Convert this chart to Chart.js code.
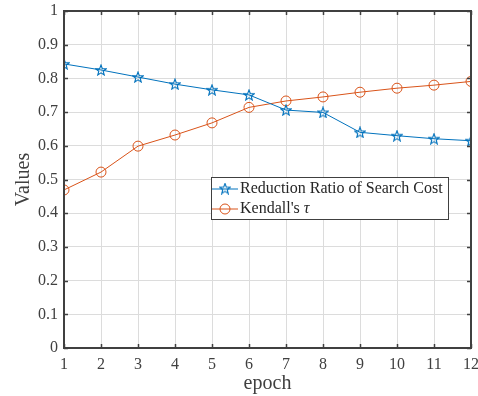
<!DOCTYPE html>
<html lang="en">
<head>
<meta charset="UTF-8">
<title>Chart</title>
<script src="https://cdn.jsdelivr.net/npm/chart.js"></script>
<style>
  html, body { margin: 0; padding: 0; background: #fff; }
  #wrap { width: 478px; height: 396px; }
</style>
</head>
<body>
<div id="wrap"><canvas id="myChart" width="478" height="396"></canvas></div>
<script>
// data
var epochs = [1, 2, 3, 4, 5, 6, 7, 8, 9, 10, 11, 12];
var reductionRatio = [0.843, 0.825, 0.804, 0.783, 0.766, 0.751, 0.706, 0.699, 0.640, 0.630, 0.621, 0.615];
var kendallTau = [0.469, 0.522, 0.599, 0.632, 0.668, 0.714, 0.733, 0.745, 0.759, 0.771, 0.780, 0.791];
var yTicks = [0, 0.1, 0.2, 0.3, 0.4, 0.5, 0.6, 0.7, 0.8, 0.9, 1];

var blue = '#0072BD';
var red = '#D95319';
var axisColor = '#404040';
var font = "'Liberation Serif', 'Times New Roman', serif";

// five pointed star marker
function makeStar(size, color) {
    var c = document.createElement('canvas');
    c.width = size; c.height = size;
    var g = c.getContext('2d');
    var cx = size / 2, cy = size / 2 + 0.5, R = size / 2 - 0.5, r = R * 0.42;
    g.beginPath();
    for (var i = 0; i < 10; i++) {
        var rad = i % 2 === 0 ? R : r;
        var a = -Math.PI / 2 + i * Math.PI / 5;
        var px = cx + rad * Math.cos(a), py = cy + rad * Math.sin(a);
        if (i === 0) g.moveTo(px, py); else g.lineTo(px, py);
    }
    g.closePath();
    g.strokeStyle = color;
    g.lineWidth = 1.1;
    g.stroke();
    return c;
}
var starImg = makeStar(12, blue);

function drawLegendMarker(ctx, type, x, y, color) {
    ctx.strokeStyle = color;
    ctx.lineWidth = 1;
    ctx.beginPath();
    ctx.moveTo(x - 13, y); ctx.lineTo(x + 13, y);
    ctx.stroke();
    if (type === 'star') {
        ctx.drawImage(starImg, x - 6, y - 6.5);
    } else {
        ctx.beginPath();
        ctx.arc(x, y, 5, 0, Math.PI * 2);
        ctx.stroke();
    }
}

var boxPlugin = {
    id: 'boxPlugin',
    afterDatasetsDraw: function (chart) {
        var ctx = chart.ctx;
        var a = chart.chartArea;
        var xs = chart.scales.x, ys = chart.scales.y;
        ctx.save();
        // box
        ctx.strokeStyle = axisColor;
        ctx.lineWidth = 2;
        ctx.strokeRect(a.left, a.top, a.right - a.left, a.bottom - a.top);
        // inner ticks
        ctx.lineWidth = 1.5;
        ctx.beginPath();
        yTicks.forEach(function (v) {
            var py = Math.round(ys.getPixelForValue(v)) + 0.5;
            ctx.moveTo(a.left, py); ctx.lineTo(a.left + 4, py);
            ctx.moveTo(a.right, py); ctx.lineTo(a.right - 4, py);
        });
        epochs.forEach(function (v) {
            var px = Math.round(xs.getPixelForValue(v)) + 0.5;
            ctx.moveTo(px, a.bottom); ctx.lineTo(px, a.bottom - 4);
            ctx.moveTo(px, a.top); ctx.lineTo(px, a.top + 4);
        });
        ctx.stroke();

        // legend
        var lx = 211, ly = 177, lw = 237, lh = 42;
        ctx.fillStyle = '#fff';
        ctx.fillRect(lx, ly, lw, lh);
        ctx.strokeStyle = axisColor;
        ctx.lineWidth = 1;
        ctx.strokeRect(lx + 0.5, ly + 0.5, lw, lh);
        drawLegendMarker(ctx, 'star', lx + 14, ly + 12, blue);
        drawLegendMarker(ctx, 'circle', lx + 14, ly + 32, red);
        ctx.fillStyle = '#262626';
        ctx.textBaseline = 'middle';
        ctx.textAlign = 'left';
        ctx.font = '16px ' + font;
        ctx.fillText('Reduction Ratio of Search Cost', lx + 29, ly + 12);
        var t = "Kendall's ";
        ctx.fillText(t, lx + 29, ly + 32);
        var w = ctx.measureText(t).width;
        ctx.font = 'italic 16px ' + font;
        ctx.fillText('\u03C4', lx + 29 + w, ly + 32);
        ctx.restore();
    }
};

new Chart(document.getElementById('myChart'), {
    type: 'line',
    data: {
        datasets: [{
            label: 'Reduction Ratio of Search Cost',
            data: epochs.map(function (e, i) { return { x: e, y: reductionRatio[i] }; }),
            borderColor: blue,
            borderWidth: 1,
            pointStyle: starImg,
            pointRadius: 6,
            pointBorderColor: blue,
            tension: 0
        }, {
            label: "Kendall's \u03C4",
            data: epochs.map(function (e, i) { return { x: e, y: kendallTau[i] }; }),
            borderColor: red,
            borderWidth: 1,
            pointStyle: 'circle',
            pointRadius: 5,
            pointBorderWidth: 1,
            pointBorderColor: red,
            pointBackgroundColor: 'rgba(0,0,0,0)',
            tension: 0
        }]
    },
    options: {
        responsive: false,
        animation: false,
        events: [],
        layout: { padding: { left: 0, right: 5, top: 11, bottom: 0 } },
        plugins: {
            legend: { display: false },
            tooltip: { enabled: false }
        },
        scales: {
            x: {
                type: 'linear',
                min: 1, max: 12,
                afterBuildTicks: function (s) { s.ticks = epochs.map(function (v) { return { value: v }; }); },
                afterFit: function (s) { s.height = 48; s.paddingLeft = 0; s.paddingRight = 0; },
                grid: { color: '#dcdcdc', lineWidth: 1, drawTicks: false },
                border: { display: false },
                ticks: { color: '#404040', font: { family: font, size: 16 }, padding: 7, maxRotation: 0, autoSkip: false },
                title: { display: true, text: 'epoch', color: '#404040', font: { family: font, size: 20 }, padding: { top: 3, bottom: 0 } }
            },
            y: {
                min: 0, max: 1,
                afterBuildTicks: function (s) { s.ticks = yTicks.map(function (v) { return { value: v }; }); },
                afterFit: function (s) { s.width = 64; s.paddingTop = 0; s.paddingBottom = 0; },
                grid: { color: '#dcdcdc', lineWidth: 1, drawTicks: false },
                border: { display: false },
                ticks: { color: '#404040', font: { family: font, size: 16 }, padding: 6, callback: function (v) { return String(v); } },
                title: { display: true, text: 'Values', color: '#404040', font: { family: font, size: 20 }, padding: { top: 12, bottom: 0 } }
            }
        }
    },
    plugins: [boxPlugin]
});
</script>
</body>
</html>
